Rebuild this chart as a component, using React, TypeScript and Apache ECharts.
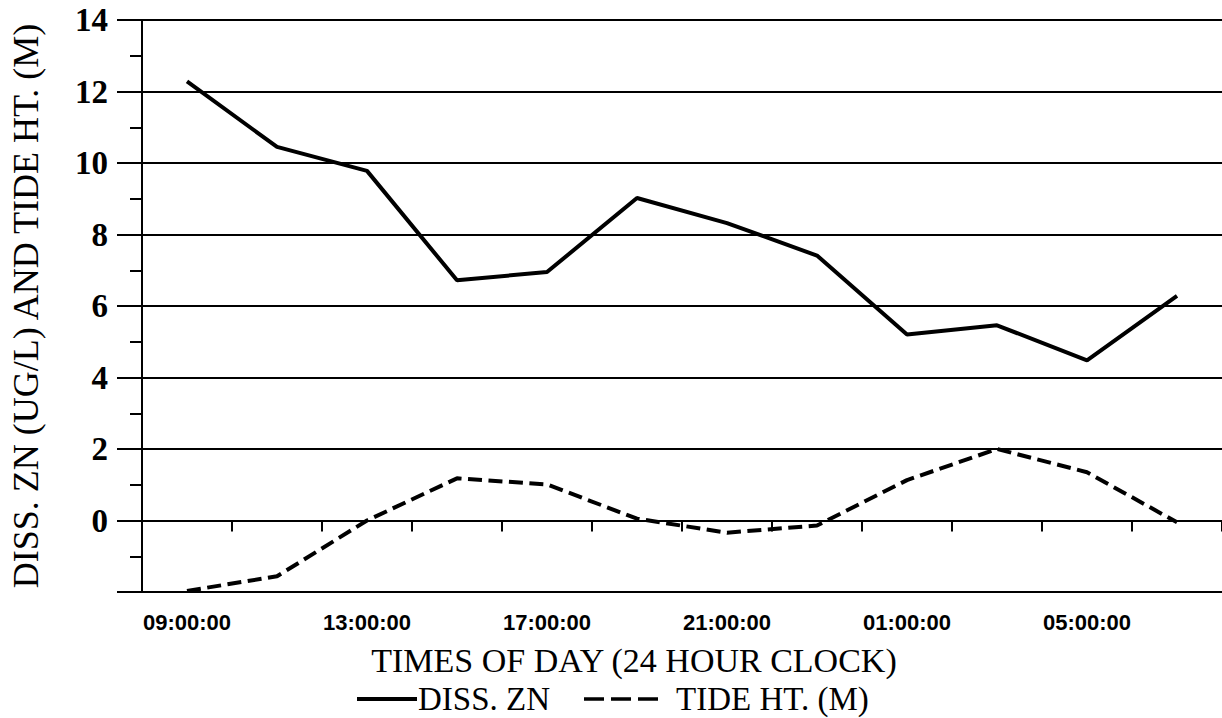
import React, { useEffect, useRef } from "react";
import * as echarts from "echarts";

const categories = [
  "09:00:00", "11:00:00", "13:00:00", "15:00:00", "17:00:00", "19:00:00",
  "21:00:00", "23:00:00", "01:00:00", "03:00:00", "05:00:00", "07:00:00",
];
const dissZn = [12.28, 10.45, 9.78, 6.72, 6.95, 9.02, 8.32, 7.41, 5.2, 5.46, 4.48, 6.28];
const tideHt = [-1.97, -1.56, 0.0, 1.18, 1.01, 0.05, -0.34, -0.14, 1.13, 2.0, 1.35, -0.05];
const yMin = -2;
const yMax = 14;
const yStep = 2;
const hiddenYLabels = [-2];

const xTitle = "TIMES OF DAY (24 HOUR CLOCK)";
const yTitle = "DISS. ZN (UG/L) AND TIDE HT. (M)";
const seriesNames = ["DISS. ZN", "TIDE HT. (M)"];

const SERIF = "'Liberation Serif', 'Times New Roman', serif";
const SANS = "'Liberation Sans', Arial, sans-serif";
const DASH = [14, 6.5];
const LEGEND_DASH = [20, 7];

export default function App() {
  const ref = useRef<HTMLDivElement>(null);
  useEffect(() => {
    if (!ref.current) return;
    const chart = echarts.init(ref.current, undefined, { renderer: "svg" });
    const legendY = 699;
    const legendText = {
      fontFamily: SERIF,
      fontSize: 33,
      lineHeight: 33,
      fill: "#000",
      verticalAlign: "middle",
    };
    chart.setOption({
      animation: false,
      backgroundColor: "#fff",
      grid: { left: 137, top: 20, bottom: 126, width: 1088, containLabel: false },
      graphic: [
        {
          type: "text",
          x: 634,
          y: 660,
          style: {
            text: xTitle,
            fontFamily: SERIF,
            fontSize: 34,
            lineHeight: 34,
            fill: "#000",
            align: "center",
            verticalAlign: "middle",
          },
        },
        {
          type: "line",
          shape: { x1: 357, y1: legendY, x2: 417, y2: legendY },
          style: { stroke: "#000", lineWidth: 4 },
        },
        {
          type: "text",
          x: 418,
          y: legendY,
          style: { ...legendText, text: seriesNames[0], align: "left" },
        },
        {
          type: "line",
          shape: { x1: 584, y1: legendY, x2: 658, y2: legendY },
          style: { stroke: "#000", lineWidth: 3.5, lineDash: LEGEND_DASH },
        },
        {
          type: "text",
          x: 676,
          y: legendY,
          style: { ...legendText, text: seriesNames[1], align: "left" },
        },
      ],
      xAxis: {
        type: "category",
        data: categories,
        boundaryGap: true,
        axisLine: { lineStyle: { color: "#000", width: 2 } },
        axisTick: { show: true, interval: 0, length: 11, lineStyle: { color: "#000", width: 2 } },
        axisLabel: {
          interval: 1,
          margin: 19,
          fontFamily: SANS,
          fontWeight: "bold",
          fontSize: 22,
          color: "#000",
        },
        splitLine: { show: false },
      },
      yAxis: {
        type: "value",
        min: yMin,
        max: yMax,
        interval: yStep,
        name: yTitle,
        nameLocation: "middle",
        nameGap: 98,
        nameTextStyle: { fontFamily: SERIF, fontSize: 36, color: "#000" },
        axisLine: { show: true, lineStyle: { color: "#000", width: 2 } },
        axisTick: { show: true, length: 25, lineStyle: { color: "#000", width: 2 } },
        minorTick: { show: true, splitNumber: 2, length: 12, lineStyle: { color: "#000", width: 2 } },
        axisLabel: {
          margin: 34,
          fontFamily: SERIF,
          fontWeight: "bold",
          fontSize: 33,
          color: "#000",
          formatter: (v: number) => (hiddenYLabels.includes(v) ? "" : String(v)),
        },
        splitLine: { show: true, lineStyle: { color: "#000", width: 2 } },
      },
      series: [
        {
          name: seriesNames[0],
          type: "line",
          data: dissZn,
          symbol: "none",
          lineStyle: { color: "#000", width: 4, type: "solid" },
          itemStyle: { color: "#000" },
        },
        {
          name: seriesNames[1],
          type: "line",
          data: tideHt,
          symbol: "none",
          lineStyle: { color: "#000", width: 4, type: DASH },
          itemStyle: { color: "#000" },
        },
      ],
    });
    return () => chart.dispose();
  }, []);
  return (
    <div
      ref={ref}
      style={{ position: "absolute", left: 0, top: 0, width: 1222, height: 718, background: "#fff" }}
    />
  );
}
